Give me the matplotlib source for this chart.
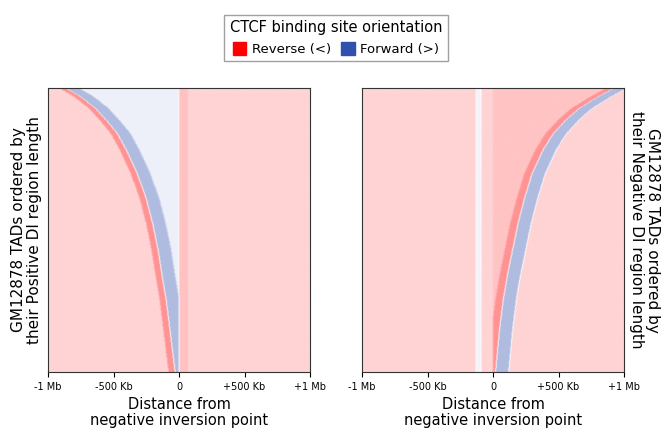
import numpy as np
import matplotlib
matplotlib.use("Agg")
import matplotlib.pyplot as plt
from matplotlib.colors import LinearSegmentedColormap
from matplotlib.patches import Patch

# Boundary curves (row fraction -> position in Mb)
row_frac = [0.0, 0.03, 0.07, 0.11, 0.16, 0.22, 0.30, 0.39, 0.48, 0.57, 0.66, 0.74, 0.85, 1.0]
left_curve = [-0.86, -0.75, -0.64, -0.56, -0.47, -0.40, -0.32, -0.25, -0.20, -0.16, -0.13, -0.10, -0.07, -0.03]
right_curve = [0.92, 0.80, 0.66, 0.56, 0.46, 0.38, 0.30, 0.24, 0.19, 0.15, 0.11, 0.08, 0.05, 0.02]
# Level values (positive = reverse/red, negative = forward/blue)
background = 0.17
band_red = 0.42
band_blue = -0.38
inner_left = -0.08
near_zero_red = 0.24
zero_line_right = -0.06
tick_pos = [-1, -0.5, 0, 0.5, 1]
tick_labels = ["-1 Mb", "-500 Kb", "0", "+500 Kb", "+1 Mb"]

nr, nc = 300, 400
x = np.linspace(-1, 1, nc)
rf = np.linspace(0, 1, nr)
kernel = np.ones(3) / 3

def smooth(M):
    return np.array([np.convolve(np.pad(r, 1, mode="edge"), kernel, mode="valid") for r in M])

def left_matrix():
    M = np.full((nr, nc), background)
    cb = np.interp(rf, row_frac, left_curve)
    for i in range(nr):
        c = cb[i]
        M[i, (x > c) & (x < 0)] = inner_left
        M[i, (x > c - 0.05) & (x <= c)] = band_red
        M[i, (x > c) & (x <= c + 0.10)] = band_blue
        M[i, (x >= 0) & (x < 0.07)] = near_zero_red
    return smooth(M)

def right_matrix():
    M = np.full((nr, nc), background)
    cb = np.interp(rf, row_frac, right_curve)
    for i in range(nr):
        c = cb[i]
        M[i, (x >= 0) & (x <= c)] = background + 0.06
        M[i, (x > max(c - 0.06, 0.0)) & (x <= c)] = band_red
        M[i, (x > c) & (x <= c + 0.10)] = band_blue
        M[i, (x > -0.13) & (x < -0.09)] = zero_line_right
    return smooth(M)

cmap = LinearSegmentedColormap.from_list("ctcf", ["#2f4fb0", "#ffffff", "#ff0000"])
fig = plt.figure(figsize=(6.69, 4.42), dpi=100)
ax1 = fig.add_axes([48/669, 1-372/442, 262/669, 284/442])
ax2 = fig.add_axes([362/669, 1-372/442, 262/669, 284/442])
for ax, M in [(ax1, left_matrix()), (ax2, right_matrix())]:
    ax.imshow(M, cmap=cmap, vmin=-1.0, vmax=1.0, aspect="auto",
              extent=[-1, 1, 1, 0], interpolation="bilinear")
    ax.set_xticks(tick_pos)
    ax.set_xticklabels(tick_labels, fontsize=7)
    ax.set_yticks([])
    ax.set_xlabel("Distance from\nnegative inversion point", fontsize=10.5, linespacing=1.1)
    for s in ax.spines.values():
        s.set_color("#333333")
ax1.set_ylabel("GM12878 TADs ordered by\ntheir Positive DI region length", fontsize=11, linespacing=1.1)
ax2.yaxis.set_label_position("right")
ax2.set_ylabel("GM12878 TADs ordered by\ntheir Negative DI region length", fontsize=11,
               rotation=270, labelpad=26, linespacing=1.1)
handles = [Patch(color="#ff0000", label="Reverse (<)"), Patch(color="#3050b0", label="Forward (>)")]
leg = fig.legend(handles=handles, loc="center", bbox_to_anchor=(336/669, 1-38/442), ncol=2,
                 title="CTCF binding site orientation", fontsize=9.5, title_fontsize=10.5,
                 fancybox=False, edgecolor="#888888", handlelength=1.0, handleheight=1.2,
                 columnspacing=0.8, handletextpad=0.4, borderpad=0.4)
fig.savefig("out.png", dpi=100)
